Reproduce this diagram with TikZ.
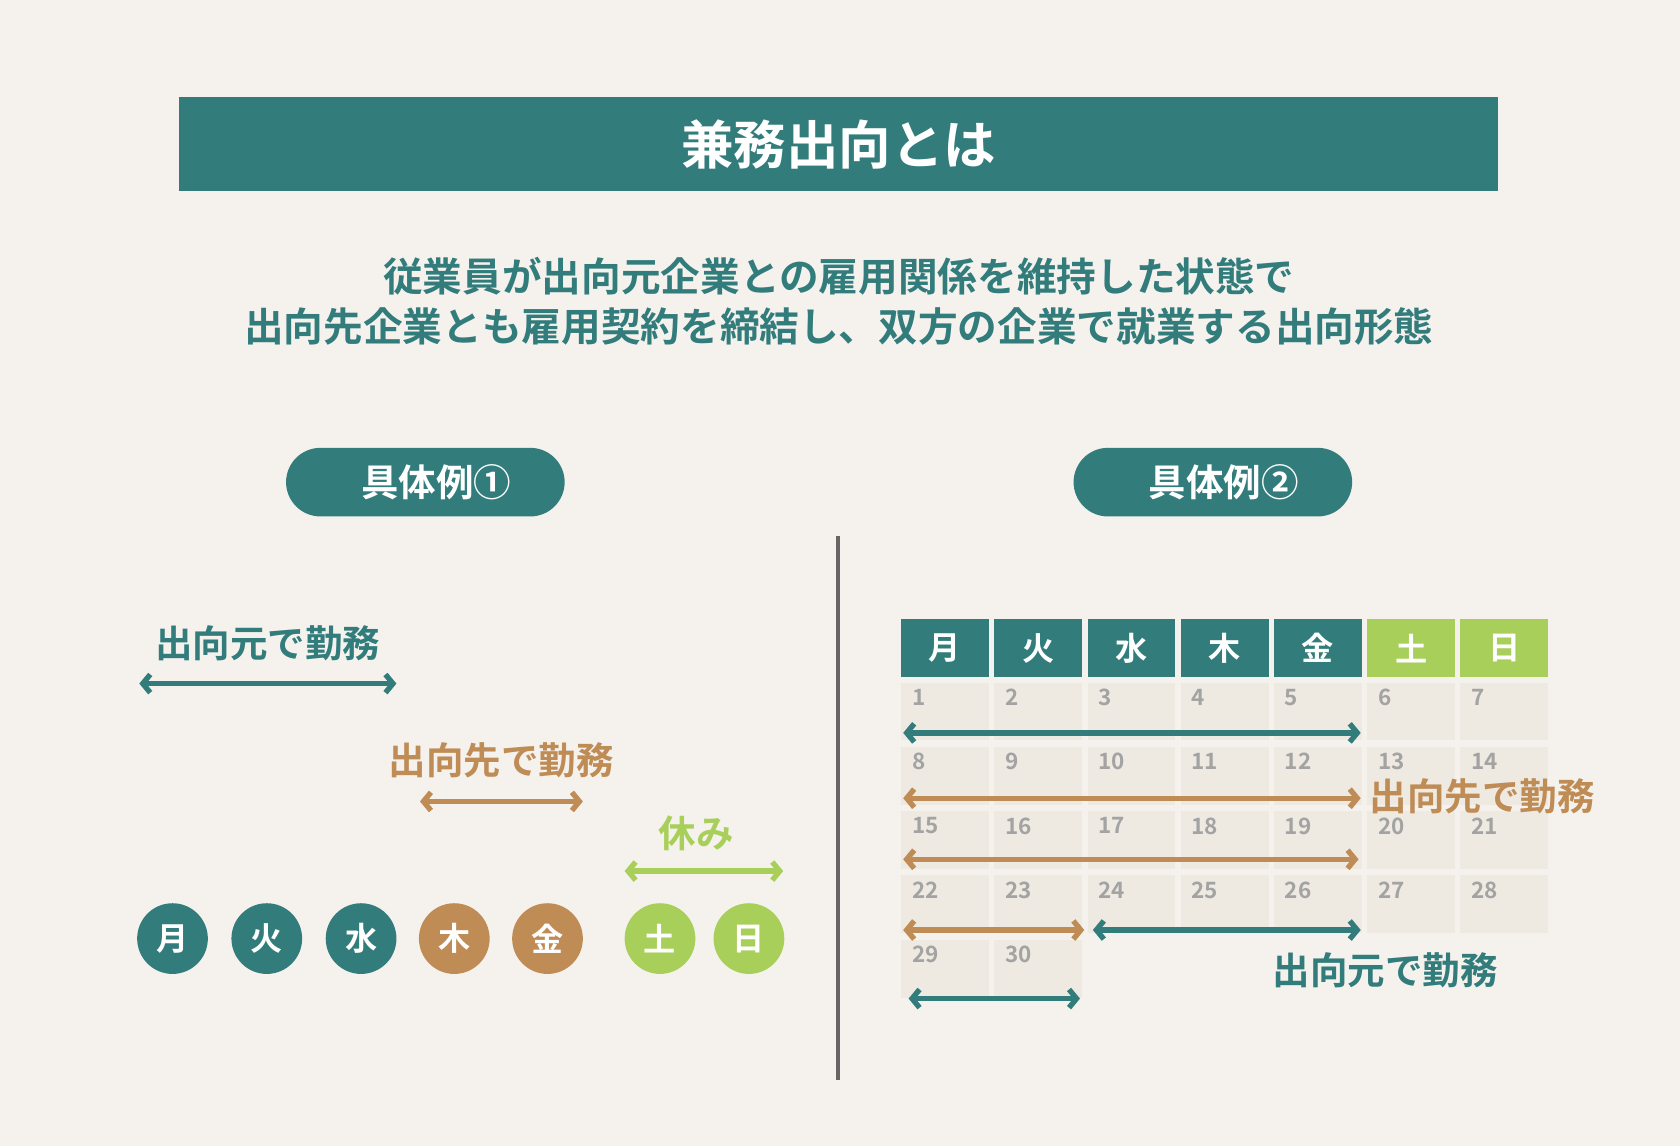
\documentclass[tikz,border=0pt]{standalone}
\usepackage{fontspec}
\setmainfont{Noto Sans CJK JP}[BoldFont={Noto Sans CJK JP Bold}]
\usetikzlibrary{arrows.meta}
\definecolor{bg}{HTML}{F5F2EE}
\definecolor{teal}{HTML}{327D7C}
\definecolor{brn}{HTML}{BF8C55}
\definecolor{grn}{HTML}{A8CF5A}
\definecolor{cell}{HTML}{EEEAE2}
\definecolor{num}{HTML}{A3A3A3}
\tikzset{
 arr/.style={line width=5pt,{Straight Barb[length=7pt,width=17pt,line width=5pt]}-{Straight Barb[length=7pt,width=17pt,line width=5pt]}},
 dayc/.style={circle,minimum size=66pt,inner sep=0,text=white,font=\bfseries\fontsize{30}{32}\selectfont},
 pill/.style={rounded corners=32pt,minimum width=260pt,minimum height=64pt,fill=teal,text=white,font=\bfseries\fontsize{35}{38}\selectfont},
 hdr/.style={minimum width=82pt,minimum height=54pt,inner sep=0,text=white,font=\bfseries\fontsize{30}{32}\selectfont},
 cel/.style={minimum width=82pt,minimum height=54pt,fill=cell,inner sep=0},
 nm/.style={text=num,font=\bfseries\fontsize{21}{22}\selectfont,anchor=north west,inner sep=0},
 lbl/.style={font=\bfseries\fontsize{35}{38}\selectfont}
}
\begin{document}
\begin{tikzpicture}[x=1pt,y=-1pt]
\fill[bg] (0,0) rectangle (1568,1070);
\useasboundingbox (0,0) rectangle (1568,1070);
\fill[teal] (167,91) rectangle (1398,178);
\node[text=white,font=\bfseries\fontsize{49}{54}\selectfont] (title) at (783,135) {兼務出向とは};
\node[text=teal,font=\bfseries\fontsize{37}{42}\selectfont] (s1) at (783,258) {従業員が出向元企業との雇用関係を維持した状態で};
\node[text=teal,font=\bfseries\fontsize{37}{42}\selectfont] (s2) at (783,305) {出向先企業とも雇用契約を締結し、双方の企業で就業する出向形態};
\node[pill] (p1) at (397,450) {\hspace*{20pt}具体例①};
\node[pill] (p2) at (1132,450) {\hspace*{20pt}具体例②};
\coordinate (d1) at (782,500); \coordinate (d2) at (782,1008);
\draw[line width=4pt,color=black!60] (d1) -- (d2);
% left
\node[lbl,text=teal] (l1) at (250,600) {出向元で勤務};
\coordinate (a1) at (130,638); \coordinate (a2) at (370,638);
\draw[arr,teal] (a1) -- (a2);
\node[lbl,text=brn] (l2) at (468,710) {出向先で勤務};
\coordinate (b1) at (392,748); \coordinate (b2) at (544,748);
\draw[arr,brn] (b1) -- (b2);
\node[lbl,text=grn] (l3) at (650,778) {休み};
\coordinate (c1) at (583,813); \coordinate (c2) at (731,813);
\draw[arr,grn] (c1) -- (c2);
\foreach \x/\t/\c/\n in {161/月/teal/m,249/火/teal/t,337/水/teal/w,424/木/brn/h,511/金/brn/f,616/土/grn/s,699/日/grn/u}
  \node[dayc,fill=\c] (dc\n) at (\x,876) {\t};
% calendar
\foreach \i/\t/\c in {0/月/teal,1/火/teal,2/水/teal,3/木/teal,4/金/teal,5/土/grn,6/日/grn}
  \node[hdr,fill=\c] (h\i) at (882+87*\i,605) {\t};
\foreach \r in {0,...,4}{
  \foreach \i in {0,...,6}{
    \pgfmathtruncatemacro{\d}{\r*7+\i+1}
    \ifnum\d<31
      \node[cel] (c\d) at (882+87*\i,664+60*\r) {};
      \node[nm] at (851+87*\i,643+60*\r) {\d};
    \fi
  }
}
\coordinate (r1a) at (843,684); \coordinate (r1b) at (1270,684);
\draw[arr,teal] (r1a) -- (r1b);
\coordinate (r2a) at (843,745); \coordinate (r2b) at (1270,745);
\draw[arr,brn] (r2a) -- (r2b);
\node[lbl,text=brn,anchor=west,inner sep=0] (l4) at (1278,743) {出向先で勤務};
\coordinate (r3a) at (843,802); \coordinate (r3b) at (1268,802);
\draw[arr,brn] (r3a) -- (r3b);
\coordinate (r4a) at (843,868); \coordinate (r4b) at (1012,868);
\draw[arr,brn] (r4a) -- (r4b);
\coordinate (r4c) at (1020,868); \coordinate (r4d) at (1270,868);
\draw[arr,teal] (r4c) -- (r4d);
\node[lbl,text=teal] (l5) at (1293,906) {出向元で勤務};
\coordinate (r5a) at (848,932); \coordinate (r5b) at (1008,932);
\draw[arr,teal] (r5a) -- (r5b);
\end{tikzpicture}
\end{document}
